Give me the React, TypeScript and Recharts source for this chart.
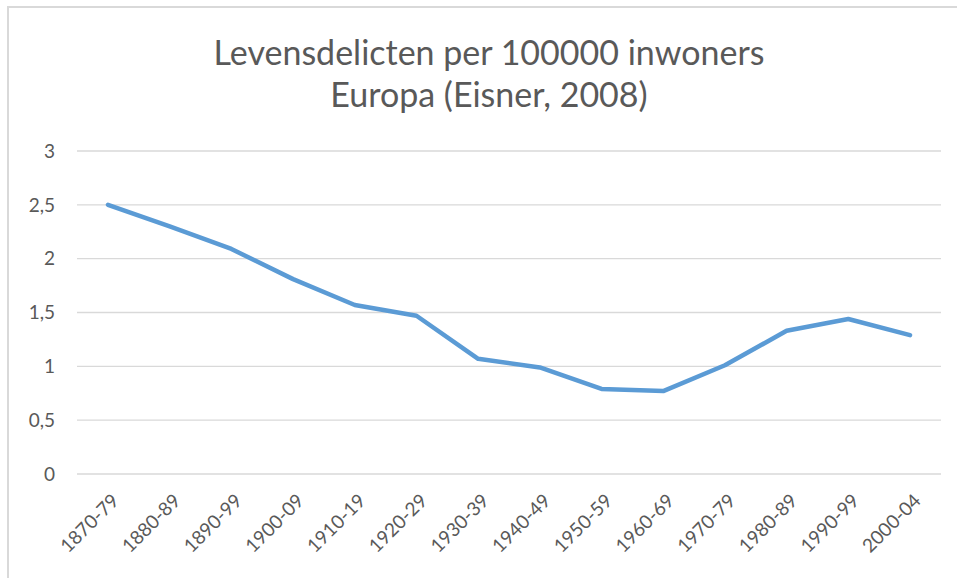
import React from "react";
import { LineChart, Line, XAxis, YAxis, CartesianGrid } from "recharts";

const periods = [
  "1870-79", "1880-89", "1890-99", "1900-09", "1910-19", "1920-29", "1930-39",
  "1940-49", "1950-59", "1960-69", "1970-79", "1980-89", "1990-99", "2000-04",
];
const rates = [2.5, 2.3, 2.09, 1.81, 1.57, 1.47, 1.07, 0.99, 0.79, 0.77, 1.01, 1.33, 1.44, 1.29];
const yTicks = [0, 0.5, 1, 1.5, 2, 2.5, 3];

const data = periods.map((period, i) => ({ period, rate: rates[i] }));

const FONT = "Lato, 'Open Sans', sans-serif";
const GREY = "#595959";

function AngledTick(props: any) {
  const { x, y, payload } = props;
  const ax = x + 12;
  const ay = y + 20;
  return (
    <text
      x={ax}
      y={ay}
      transform={`rotate(-45, ${ax}, ${ay})`}
      textAnchor="end"
      fill={GREY}
      fontSize={19}
      fontFamily={FONT}
    >
      {payload.value}
    </text>
  );
}

export default function App() {
  return (
    <div style={{ position: "absolute", left: 0, top: 0, width: 957, height: 578, background: "#fff", overflow: "hidden" }}>
      <div
        style={{
          position: "absolute", left: 7, top: 6, right: -10, bottom: -10,
          borderTop: "2px solid #d9d9d9", borderLeft: "2px solid #d9d9d9",
        }}
      />
      <div
        style={{
          position: "absolute", left: 0, top: 31, width: 978, textAlign: "center",
          fontFamily: FONT, fontSize: 34, color: GREY, lineHeight: "42px",
        }}
      >
        Levensdelicten per 100000 inwoners
        <br />
        Europa (Eisner, 2008)
      </div>
      <div style={{ position: "absolute", left: 0, top: 0 }}>
        <LineChart width={957} height={578} data={data} margin={{ top: 151, right: 16, left: 0, bottom: 0 }}>
          <CartesianGrid vertical={false} stroke="#d9d9d9" strokeWidth={1.3} />
          <XAxis
            dataKey="period"
            axisLine={false}
            tickLine={false}
            interval={0}
            padding={{ left: 31, right: 31 }}
            tick={<AngledTick />}
            height={104}
          />
          <YAxis
            width={77}
            domain={[0, 3]}
            ticks={yTicks}
            axisLine={false}
            tickLine={false}
            tickSize={0}
            tickMargin={22}
            tickFormatter={(v: number) => String(v).replace(".", ",")}
            tick={{ fill: GREY, fontSize: 19, fontFamily: FONT }}
          />
          <Line
            type="linear"
            dataKey="rate"
            stroke="#5b9bd5"
            strokeWidth={4.5}
            strokeLinecap="round"
            strokeLinejoin="round"
            dot={false}
            activeDot={false}
            isAnimationActive={false}
          />
        </LineChart>
      </div>
    </div>
  );
}
